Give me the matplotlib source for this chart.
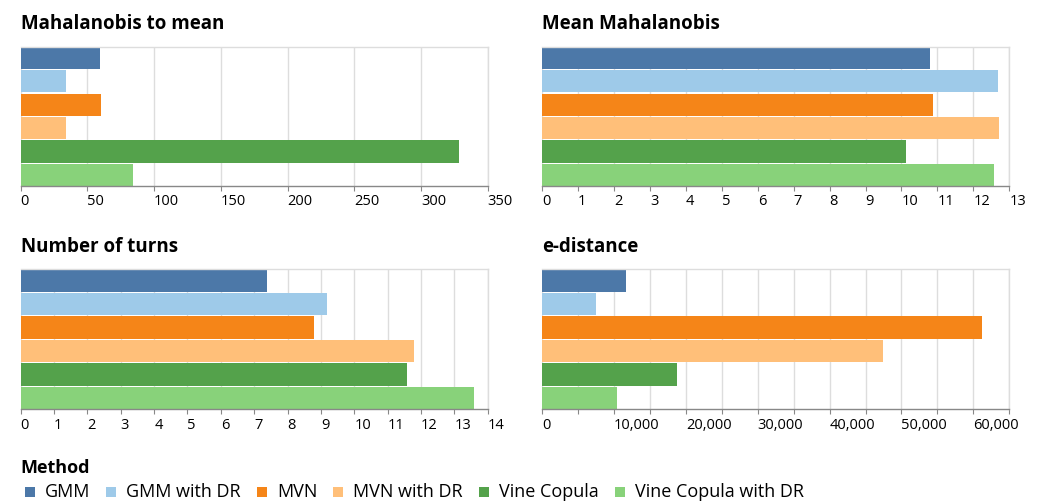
import matplotlib
matplotlib.use("Agg")
import matplotlib.pyplot as plt
from matplotlib.patches import Rectangle
from matplotlib.ticker import FixedLocator, FuncFormatter
import numpy as np

plt.rcParams['font.family'] = ['Open Sans', 'DejaVu Sans']

methods = ["GMM", "GMM with DR", "MVN", "MVN with DR", "Vine Copula", "Vine Copula with DR"]
colors = ["#4c78a8", "#9ecae9", "#f58518", "#ffbf79", "#54a24b", "#88d27a"]

mahalanobis_to_mean = [59.5, 33.7, 60.0, 33.7, 328.5, 84.2]
mean_mahalanobis = [10.79, 12.68, 10.88, 12.71, 10.12, 12.57]
number_of_turns = [7.38, 9.18, 8.79, 11.79, 11.58, 13.59]
e_distance = [11700, 7500, 61200, 47400, 18800, 10400]

panels = [
    ("Mahalanobis to mean", mahalanobis_to_mean, 350, 50, 50),
    ("Mean Mahalanobis", mean_mahalanobis, 13, 1, 1),
    ("Number of turns", number_of_turns, 14, 1, 1),
    ("e-distance", e_distance, 65000, 5000, 10000),
]

W, H = 1041, 501
fig = plt.figure(figsize=(W / 100, H / 100), dpi=100)

# panel boxes in pixels: left, top, right, bottom
boxes = [
    (20.7, 46.7, 487.7, 186.0),
    (542.0, 46.7, 1009.3, 186.0),
    (20.7, 269.3, 487.7, 409.3),
    (542.0, 269.3, 1009.3, 409.3),
]

light = "#dddddd"
dark = "#888888"

for (title, values, vmax, step, label_step), (x0, y0, x1, y1) in zip(panels, boxes):
    ax = fig.add_axes([x0 / W, 1 - y1 / H, (x1 - x0) / W, (y1 - y0) / H])
    y = np.arange(len(methods))
    ax.barh(y, values, height=0.955, color=colors, zorder=2)
    ax.set_ylim(len(methods) - 0.5 - 0.02, -0.5 + 0.02)
    ax.set_xlim(0, vmax)
    ticks = np.arange(0, vmax + step / 2, step)
    ax.xaxis.set_major_locator(FixedLocator(ticks))

    def fmt(v, pos, label_step=label_step, vmax=vmax):
        iv = int(round(v))
        if iv % label_step != 0:
            return ""
        if vmax > 1000 and iv >= vmax:
            return ""
        return f"{iv:,}"

    ax.xaxis.set_major_formatter(FuncFormatter(fmt))
    ax.set_yticks([])
    ax.grid(axis="x", color=light, linewidth=1, zorder=0)
    ax.set_axisbelow(True)
    for side in ("top", "right"):
        ax.spines[side].set_color(light)
        ax.spines[side].set_linewidth(1)
    ax.spines["left"].set_visible(False)
    ax.spines["bottom"].set_color(dark)
    ax.spines["bottom"].set_linewidth(1)
    ax.spines["bottom"].set_zorder(3)
    ax.tick_params(axis="x", length=3.6, width=0.8, color=dark, pad=2.5,
                   labelsize=10.5, labelcolor="#000000")
    for lab in ax.get_xticklabels():
        lab.set_horizontalalignment("left")
    ax.set_title(title, loc="left", fontsize=13.5, fontweight="bold", pad=12.5)

# legend along the bottom edge
fig.text(20 / W, 1 - 473 / H, "Method", fontsize=13, fontweight="bold",
         ha="left", va="baseline")
renderer = fig.canvas.get_renderer()
x = 25.0
base_y = 497.0
sq = 10.0
for m, c in zip(methods, colors):
    fig.patches.append(Rectangle((x / W, 1 - base_y / H), sq / W, sq / H,
                                 transform=fig.transFigure, facecolor=c,
                                 edgecolor="none"))
    t = fig.text((x + sq + 10) / W, 1 - base_y / H, m, fontsize=13,
                 ha="left", va="baseline")
    bb = t.get_window_extent(renderer)
    x = bb.x1 + 16

fig.savefig("out.png", dpi=100)
